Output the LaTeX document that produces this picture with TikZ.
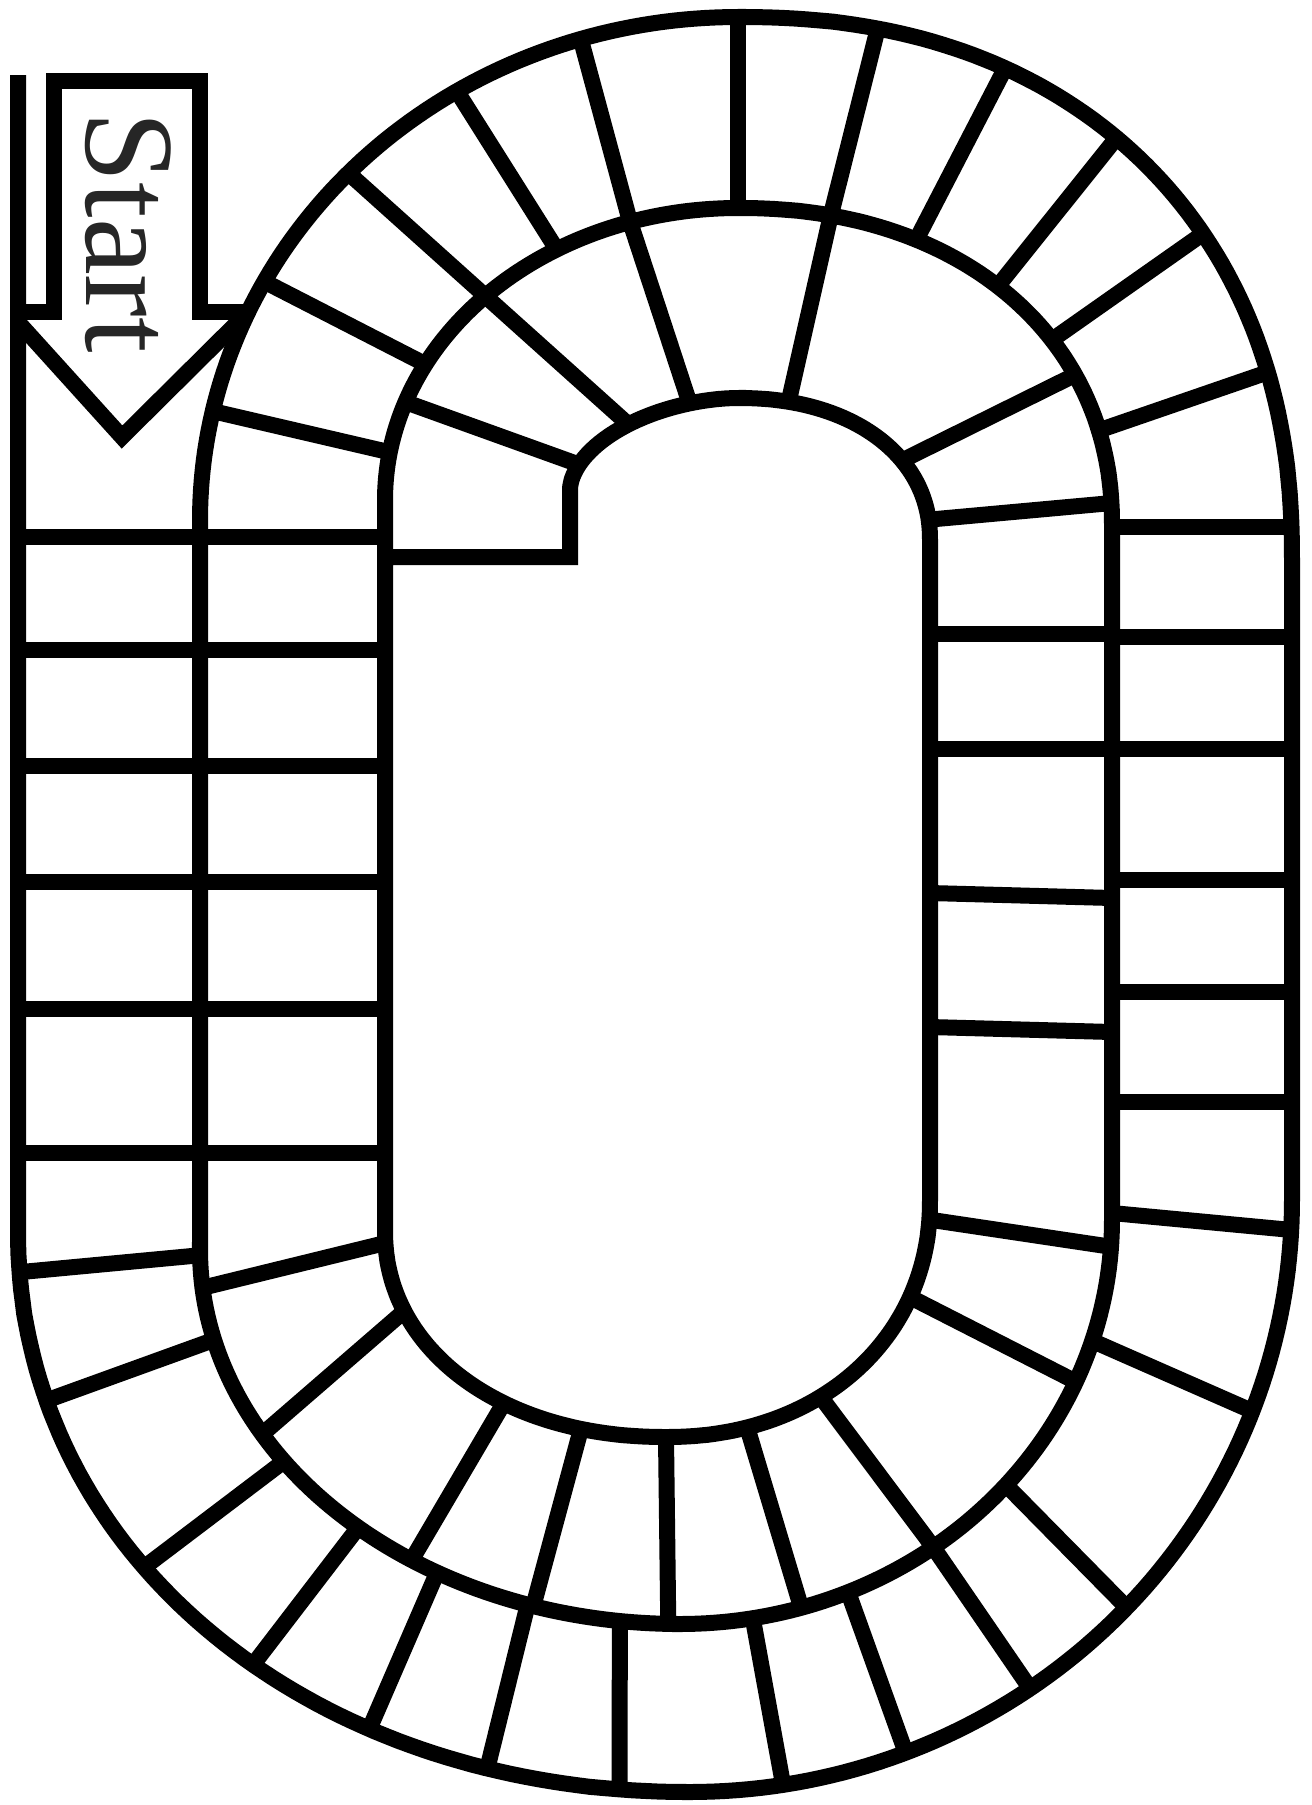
\documentclass[tikz,border=0pt]{standalone}
\usepackage{fontspec}
\usepackage{tikz}
\newfontfamily\boardfont{Liberation Serif}

% rounded-square bends: point at angle t on a superellipse quarter
\tikzset{declare function={
  spc(\x,\y)=sign(cos(\x))*pow(abs(cos(\x))+0.00001,\y);
  sps(\x,\y)=sign(sin(\x))*pow(abs(sin(\x))+0.00001,\y);}}
\newcommand\ept[6]{({#1+#3*spc(#6,#5)},{#2-#4*sps(#6,#5)})}
\newcommand\toR{\ept{738}{560}{554}{543}{0.9}}
\newcommand\toL{\ept{738}{520}{538}{503}{1}}
\newcommand\tmR{\ept{738}{525}{374}{317}{0.93}}
\newcommand\tmL{\ept{738}{500}{353}{292}{1}}
\newcommand\tiR{\ept{738}{540}{192}{142}{0.93}}
\newcommand\tiL{\ept{738}{490}{168}{92}{1.1}}
\newcommand\boL{\ept{690}{1230}{672}{562}{0.97}}
\newcommand\boR{\ept{690}{1200}{602}{592}{1}}
\newcommand\bmL{\ept{680}{1250}{480}{374}{1}}
\newcommand\bmR{\ept{680}{1220}{432}{404}{1}}
\newcommand\biL{\ept{666}{1230}{281}{207}{0.95}}
\newcommand\biR{\ept{666}{1200}{264}{237}{0.95}}

\begin{document}
\begin{tikzpicture}[x=0.5pt, y=-0.5pt,
  track/.style={line width=8pt, line join=miter},
  cell/.style={line width=8pt},
  every plot/.style={samples=80, variable=\t}]

\useasboundingbox (0,0) rectangle (1312,1805);

% Spiral edge: outer edge, lane line, inner edge
\draw[track] (18,75) -- (18,1230)
  -- plot[domain=180:270] ({690+672*spc(\t,0.97)},{1230-562*sps(\t,0.97)})
  -- plot[domain=270:360] ({690+602*spc(\t,1)},{1200-592*sps(\t,1)})
  -- (1292,560)
  -- plot[domain=0:90] ({738+554*spc(\t,0.9)},{560-543*sps(\t,0.9)})
  -- plot[domain=90:180] ({738+538*spc(\t,1)},{520-503*sps(\t,1)})
  -- (200,1250)
  -- plot[domain=180:270] ({680+480*spc(\t,1)},{1250-374*sps(\t,1)})
  -- plot[domain=270:360] ({680+432*spc(\t,1)},{1220-404*sps(\t,1)})
  -- (1112,525)
  -- plot[domain=0:90] ({738+374*spc(\t,0.93)},{525-317*sps(\t,0.93)})
  -- plot[domain=90:180] ({738+353*spc(\t,1)},{500-292*sps(\t,1)})
  -- (385,1230)
  -- plot[domain=180:270] ({666+281*spc(\t,0.95)},{1230-207*sps(\t,0.95)})
  -- plot[domain=270:360] ({666+264*spc(\t,0.95)},{1200-237*sps(\t,0.95)})
  -- (930,540)
  -- plot[domain=0:90] ({738+192*spc(\t,0.93)},{540-142*sps(\t,0.93)})
  -- plot[domain=90:180] ({738+168*spc(\t,1.1)},{490-92*sps(\t,1.1)})
  -- (570,557) -- (381,557);

% Start arrow
\draw[track] (18,312) -- (54,312) -- (54,81) -- (200,81) -- (200,312) -- (248,312);
\draw[track] (248,312) -- (122,437) -- (18,322);
\node[rotate=-90, anchor=base west, inner sep=0pt, text=black!85,
      font=\boardfont\fontsize{64}{64}\selectfont] (start) at (86,111) {Start};

% Left lanes
\draw[cell] (18,537) -- (385,537);
\draw[cell] (18,650) -- (385,650);
\draw[cell] (18,766) -- (385,766);
\draw[cell] (18,882) -- (385,882);
\draw[cell] (18,1009) -- (385,1009);
\draw[cell] (18,1153) -- (385,1153);

% Top bend, outer lane
\draw[cell] \toL{167.5} -- \tmL{170.6};
\draw[cell] \toL{151.7} -- \tmL{152.3};
\draw[cell] \toL{136.4} -- \tiL{132.7};
\draw[cell] \toL{121.5} -- \tmL{120.9};
\draw[cell] \toL{107.0} -- \tmL{107.8};
\draw[cell] \toR{90} -- \tmR{90};
\draw[cell] \toR{77.5} -- \tmR{77.1};
\draw[cell] \toR{63.6} -- \tmR{63.2};
\draw[cell] \toR{49.1} -- \tmR{47.5};
\draw[cell] \toR{34.6} -- \tmR{34.1};
\draw[cell] \toR{17.9} -- \tmR{15.8};

% Top bend, inner lane
\draw[cell] \tmL{160.4} -- \tiL{161.9};
\draw[cell] \tmL{107.8} -- \tiL{108.8};
\draw[cell] \tmR{77.1} -- \tiR{76.2};
\draw[cell] \tmR{26.6} -- \tiR{32.4};

% Right lanes
\draw[cell] \tiR{7.1} -- (1112,503);
\draw[cell] (930,634) -- (1112,634);
\draw[cell] (930,749) -- (1112,749);
\draw[cell] (930,893) -- (1112,898);
\draw[cell] (930,1027) -- (1112,1032);
\draw[cell] \biR{355.9} -- \bmR{356.2};
\draw[cell] (1112,527) -- (1292,527);
\draw[cell] (1112,637) -- (1292,637);
\draw[cell] (1112,749) -- (1292,749);
\draw[cell] (1112,880) -- (1292,880);
\draw[cell] (1112,992) -- (1292,992);
\draw[cell] (1112,1102) -- (1292,1102);
\draw[cell] (1112,1213) -- \boR{357.1};

% Bottom bend, outer lane
\draw[cell] \boL{183.9} -- \bmL{180.8};
\draw[cell] \boL{197.0} -- \bmL{193.9};
\draw[cell] \boL{216.2} -- \bmL{214.4};
\draw[cell] \boL{230.1} -- \bmL{227.9};
\draw[cell] \boL{242.2} -- \bmL{239.6};
\draw[cell] \boL{253.1} -- \bmL{251.5};
\draw[cell] \boL{264.4} -- \bmL{262.8};
\draw[cell] \boR{278.9} -- \bmR{279.7};
\draw[cell] \boR{291.0} -- \bmR{292.9};
\draw[cell] \boR{304.4} -- \bmR{305.9};
\draw[cell] \boR{316.5} -- \bmR{319.0};
\draw[cell] \boR{339.1} -- \bmR{342.6};

% Bottom bend, inner lane
\draw[cell] \bmL{185.8} -- \biL{183.1};
\draw[cell] \bmL{209.5} -- \biL{201.9};
\draw[cell] \bmL{236.0} -- \biL{235.9};
\draw[cell] \bmL{252.2} -- \biL{253.5};
\draw[cell] \bmL{268.6} -- \biL{270};
\draw[cell] \bmR{286.3} -- \biR{286.8};
\draw[cell] \bmR{305.9} -- \biR{304.7};
\draw[cell] \bmR{336.4} -- \biR{337.0};

\end{tikzpicture}
\end{document}
